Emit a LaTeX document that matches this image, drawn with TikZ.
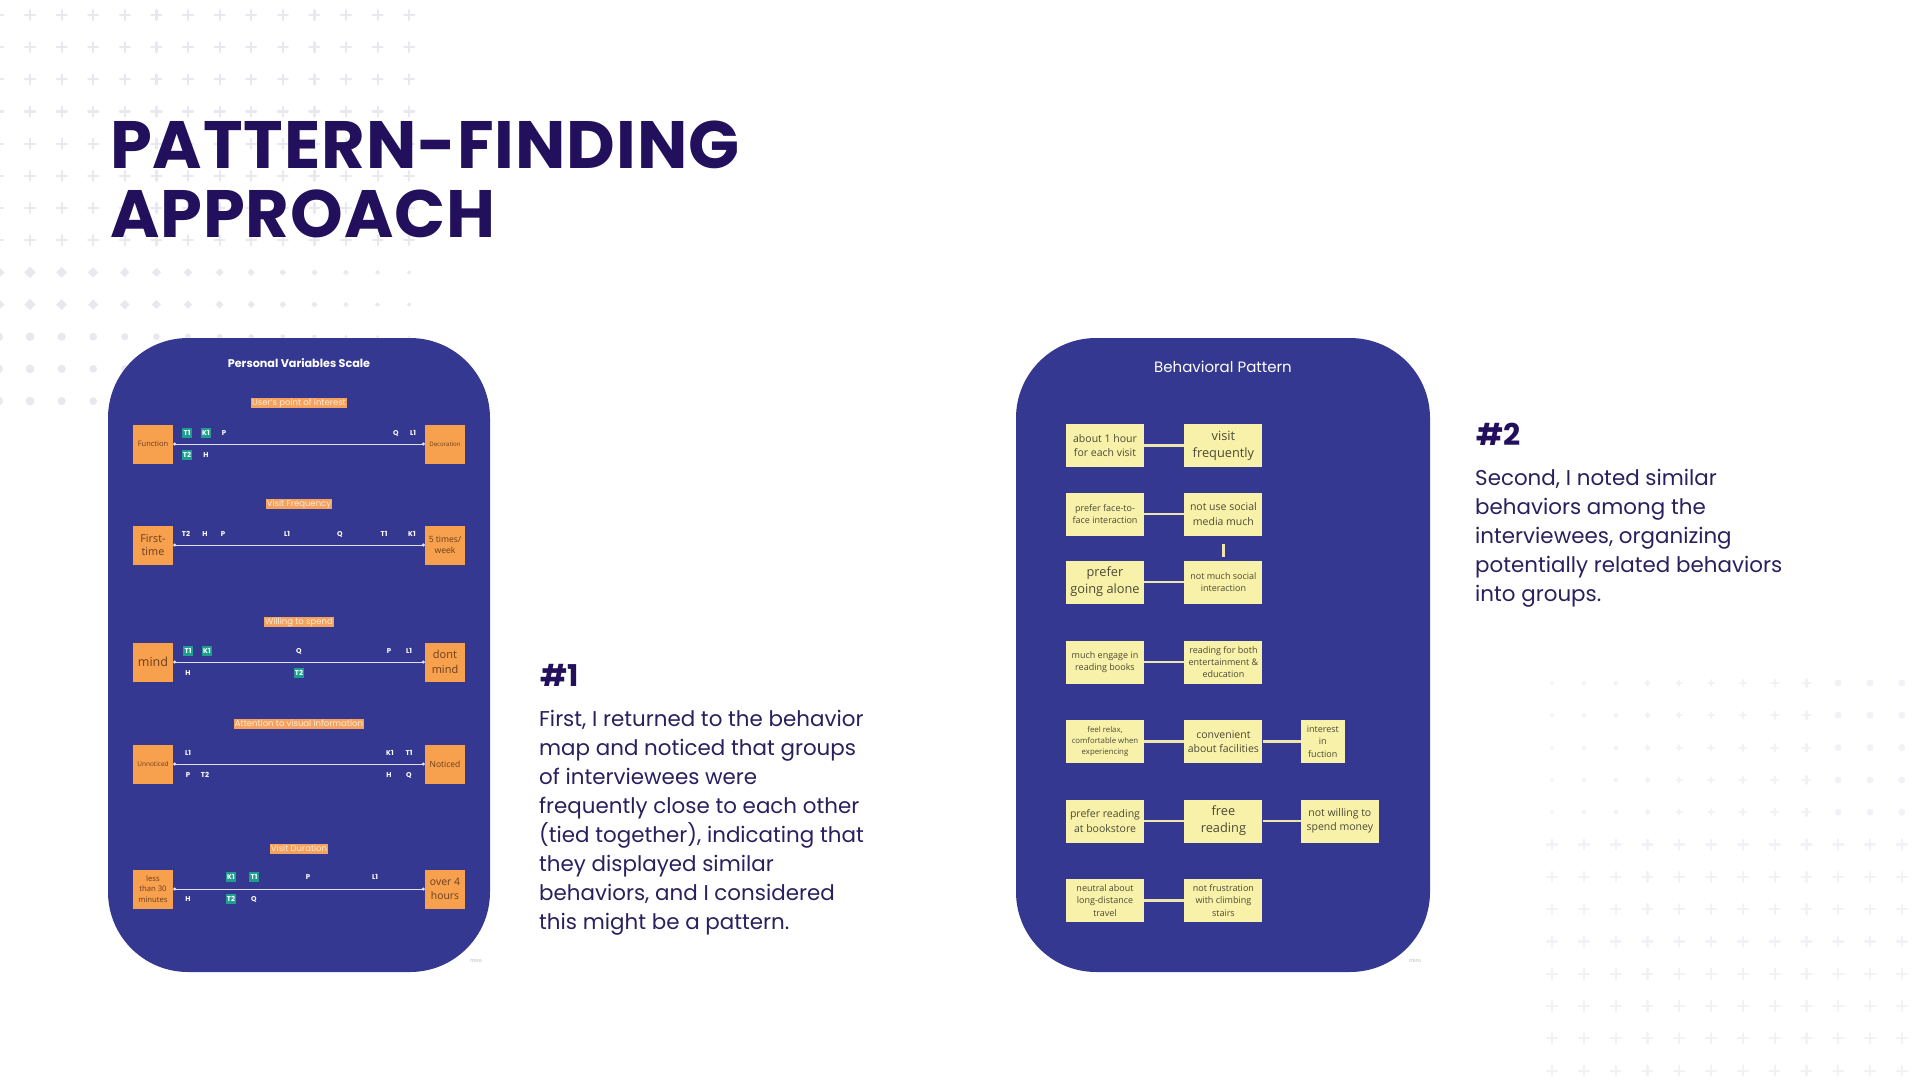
\documentclass[tikz,border=0pt]{standalone}
\usepackage{fontspec}
\setmainfont{Poppins}
\newfontfamily\notefont{Open Sans}
\usetikzlibrary{positioning,arrows.meta}
\definecolor{panelblue}{HTML}{343891}
\definecolor{titleindigo}{HTML}{22105C}
\definecolor{bodyindigo}{HTML}{2B1F5E}
\definecolor{dotgrey}{HTML}{E8E9EF}
\definecolor{dotfaint}{HTML}{F1F2F5}
\definecolor{boxorange}{HTML}{F7A04E}
\definecolor{boxtext}{HTML}{6B3E1B}
\definecolor{labelorange}{HTML}{F4A25E}
\definecolor{labeltext}{HTML}{FFEBD8}
\definecolor{markteal}{HTML}{1E9E8C}
\definecolor{linewhite}{HTML}{DDE0F6}
\definecolor{noteyellow}{HTML}{F8F1A9}
\definecolor{notetext}{HTML}{4C4A35}
\definecolor{notelinkc}{HTML}{EDE5AE}

\begin{document}
\begin{tikzpicture}[x=1pt, y=-1pt, line cap=round, line join=round,
  plusmark/.style={draw=dotgrey, line width=2.2pt},
  faintplus/.style={draw=dotfaint, line width=2.2pt},
  titletext/.style={text=titleindigo, font=\bfseries\fontsize{67}{69}\selectfont\addfontfeatures{LetterSpace=1.4}, inner sep=0pt},
  hashtext/.style={text=titleindigo, font=\bfseries\fontsize{30}{32}\selectfont, inner sep=0pt},
  bodytext/.style={text=bodyindigo, font=\fontsize{21.4}{29}\selectfont, align=left, inner sep=0pt},
  pvtitle/.style={text=white, font=\bfseries\fontsize{11.2}{13}\selectfont, inner sep=1pt},
  bptitle/.style={text=white, font=\fontsize{15}{18}\selectfont, inner sep=1pt},
  scalelabel/.style={fill=labelorange, text=labeltext, font=\fontsize{8.5}{10}\selectfont,
    inner xsep=1.2pt, inner ysep=1.4pt, text height=6.3pt, text depth=1.8pt},
  endbox/.style 2 args={fill=boxorange, text=boxtext, font=\notefont\fontsize{#1}{#2}\selectfont,
    align=center, minimum width=40pt, minimum height=39pt, inner sep=1pt},
  scaleline/.style={draw=linewhite, line width=1pt, arrows={Circle[length=3pt]-Circle[length=3pt]}},
  mk/.style={text=white, font=\bfseries\fontsize{7}{8}\selectfont, inner xsep=1.3pt, inner ysep=1.8pt,
    text height=5.2pt, text depth=0.3pt},
  mkt/.style={mk, fill=markteal},
  note/.style={fill=noteyellow, text=notetext, font=\notefont\fontsize{10.5}{14.5}\selectfont,
    align=center, minimum width=78pt, minimum height=43pt, inner sep=1pt},
  notebig/.style={note, font=\notefont\fontsize{12.8}{17}\selectfont},
  notesmall/.style={note, font=\notefont\fontsize{9}{12.3}\selectfont},
  notetiny/.style={note, font=\notefont\fontsize{7.8}{11}\selectfont},
  notelink/.style={draw=notelinkc, line width=2.6pt, line cap=butt},
  miro/.style={text=black!30, font=\fontsize{5}{6}\selectfont, inner sep=0pt}]
  \useasboundingbox (0,0) rectangle (1920,1080);
  \fill[white] (0,0) rectangle (1920,1080);

  % dotted backdrop, top left
  \foreach \j in {0,...,7}
    \foreach \i in {-1,...,12}
      \draw[plusmark] ({30+31.6*\i},{15+32.17*\j}) +(-5,0) -- +(5,0) +(0,-5) -- +(0,5);
  \foreach \j in {8,9}
    \foreach \i in {-1,...,12} {
      \pgfmathsetmacro\s{6-0.3*(\i+1)}
      \fill[dotgrey] ({30+31.6*\i},{15+32.17*\j}) +(-\s,0) -- +(0,-\s) -- +(\s,0) -- +(0,\s) -- cycle;
    }
  \foreach \j in {10,11,12}
    \foreach \i in {-1,...,12} {
      \pgfmathsetmacro\r{4.6-0.25*(\i+1)}
      \fill[dotgrey] ({30+31.6*\i},{15+32.17*\j}) circle[radius=\r];
    }

  % dotted backdrop, bottom right
  \foreach \j in {0,...,12}
    \foreach \i in {0,...,11} {
      \pgfmathsetmacro\px{1552+31.8*\i}
      \pgfmathsetmacro\py{683+32.3*\j}
      \pgfmathsetmacro\a{1+0.35*\i}
      \ifnum\j<5
        \ifnum\i>8
          \fill[dotfaint] (\px,\py) circle[radius=3.5];
        \else
          \draw[faintplus] (\px,\py) +(-\a,0) -- +(\a,0) +(0,-\a) -- +(0,\a);
        \fi
      \else
        \draw[faintplus] (\px,\py) +(-5,0) -- +(5,0) +(0,-5) -- +(0,5);
      \fi
    }

  % heading
  \node[titletext, anchor=base west] (head1) at (110,168) {PATTERN-FINDING};
  \node[titletext, anchor=base west] (head2) at (110,237) {APPROACH};

  % panels
  \fill[panelblue, rounded corners=80pt] (108,338) rectangle (490,972);
  \fill[panelblue, rounded corners=80pt] (1016,338) rectangle (1430,972);
  \node[miro] (miroL) at (476,961) {miro};
  \node[miro] (miroR) at (1415,961) {miro};

  % personal variables scale
  \node[pvtitle] (pvs) at (299,363) {Personal Variables Scale};

  \node[scalelabel] (lbint) at (299,403) {User's point of interest};
  \node[endbox={7.5}{9}] (func) at (153,444) {Function};
  \node[endbox={6.1}{8}] (deco) at (445,444) {Decoration};
  \draw[scaleline] (func) -- (deco);
  \node[mkt] (r1T1) at (187,433) {T1};
  \node[mkt] (r1K1) at (206,433) {K1};
  \node[mk] (r1P) at (224,433) {P};
  \node[mk] (r1Q) at (396,433) {Q};
  \node[mk] (r1L1) at (413,433) {L1};
  \node[mkt] (r1T2) at (187,455) {T2};
  \node[mk] (r1H) at (206,455) {H};

  \node[scalelabel] (lbfreq) at (299,504) {Visit Frequency};
  \node[endbox={10.8}{13}] (first) at (153,545) {First-\\time};
  \node[endbox={8.6}{11}] (fivex) at (445,545) {5 times/\\week};
  \draw[scaleline] (first) -- (fivex);
  \node[mk] (r2T2) at (186,534) {T2};
  \node[mk] (r2H) at (205,534) {H};
  \node[mk] (r2P) at (223,534) {P};
  \node[mk] (r2L1) at (287,534) {L1};
  \node[mk] (r2Q) at (340,534) {Q};
  \node[mk] (r2T1) at (384,534) {T1};
  \node[mk] (r2K1) at (412,534) {K1};

  \node[scalelabel] (lbspend) at (299,622) {Willing to spend};
  \node[endbox={12.5}{15}] (mind) at (153,662) {mind};
  \node[endbox={11}{14.5}] (dont) at (445,662) {dont\\mind};
  \draw[scaleline] (mind) -- (dont);
  \node[mkt] (r3T1) at (188,651) {T1};
  \node[mkt] (r3K1) at (207,651) {K1};
  \node[mk] (r3Q) at (299,651) {Q};
  \node[mk] (r3P) at (389,651) {P};
  \node[mk] (r3L1) at (409,651) {L1};
  \node[mk] (r3H) at (188,673) {H};
  \node[mkt] (r3T2) at (299,673) {T2};

  \node[scalelabel] (lbvis) at (299,724) {Attention to visual information};
  \node[endbox={6.5}{8}] (unnot) at (153,764) {Unnoticed};
  \node[endbox={8.5}{10}] (noted) at (445,764) {Noticed};
  \draw[scaleline] (unnot) -- (noted);
  \node[mk] (r4L1) at (188,753) {L1};
  \node[mk] (r4K1) at (390,753) {K1};
  \node[mk] (r4T1) at (409,753) {T1};
  \node[mk] (r4P) at (188,775) {P};
  \node[mk] (r4T2) at (205,775) {T2};
  \node[mk] (r4H) at (389,775) {H};
  \node[mk] (r4Q) at (409,775) {Q};

  \node[scalelabel] (lbdur) at (299,849) {Visit Duration};
  \node[endbox={7.7}{10.7}] (less) at (153,889) {less\\than 30\\minutes};
  \node[endbox={10.4}{14.3}] (over) at (445,889) {over 4\\hours};
  \draw[scaleline] (less) -- (over);
  \node[mkt] (r5K1) at (231,877) {K1};
  \node[mkt] (r5T1) at (254,877) {T1};
  \node[mk] (r5P) at (308,877) {P};
  \node[mk] (r5L1) at (375,877) {L1};
  \node[mk] (r5H) at (188,899) {H};
  \node[mkt] (r5T2) at (231,899) {T2};
  \node[mk] (r5Q) at (254,899) {Q};

  % behavioral pattern
  \node[bptitle] (bp) at (1223,367) {Behavioral Pattern};
  \node[note] (a1) at (1105,445.5) {about 1 hour\\for each visit};
  \node[notebig, right=40pt of a1] (a2) {visit\\frequently};
  \node[notesmall] (b1) at (1105,514) {prefer face-to-\\face interaction};
  \node[note, right=40pt of b1] (b2) {not use social\\media much};
  \node[notebig] (c1) at (1105,582) {prefer\\going alone};
  \node[notesmall, right=40pt of c1] (c2) {not much social\\interaction};
  \node[notesmall] (d1) at (1105,662) {much engage in\\reading books};
  \node[notesmall, right=40pt of d1] (d2) {reading for both\\entertainment \&\\education};
  \node[notetiny] (e1) at (1105,741.5) {feel relax,\\comfortable when\\experiencing};
  \node[note, right=40pt of e1] (e2) {convenient\\about facilities};
  \node[notesmall, minimum width=44pt, right=38pt of e2] (e3) {interest\\in\\fuction};
  \node[note] (f1) at (1105,821) {prefer reading\\at bookstore};
  \node[notebig, right=40pt of f1] (f2) {free\\reading};
  \node[note, right=38pt of f2] (f3) {not willing to\\spend money};
  \node[notesmall] (g1) at (1105,900.5) {neutral about\\long-distance\\travel};
  \node[notesmall, right=40pt of g1] (g2) {not frustration\\with climbing\\stairs};
  \draw[notelink] (a1) -- (a2);
  \draw[notelink] (b1) -- (b2);
  \draw[notelink, shorten <=8pt, shorten >=3pt] (b2) -- (c2);
  \draw[notelink] (c1) -- (c2);
  \draw[notelink] (d1) -- (d2);
  \draw[notelink] (e1) -- (e2);
  \draw[notelink] (e2) -- (e3);
  \draw[notelink] (f1) -- (f2);
  \draw[notelink] (f2) -- (f3);
  \draw[notelink] (g1) -- (g2);

  % step texts
  \node[hashtext, anchor=base west] (hash1) at (540,686) {\#1};
  \node[bodytext, anchor=north west] (text1) at (539,705.7) {\strut First, I returned to the behavior\\
    map and noticed that groups\\of interviewees were\\frequently close to each other\\
    (tied together), indicating that\\they displayed similar\\behaviors, and I considered\\
    this might be a pattern.};
  \node[hashtext, anchor=base west] (hash2) at (1476,445) {\#2};
  \node[bodytext, anchor=north west] (text2) at (1475,464.7) {\strut Second, I noted similar\\
    behaviors among the\\interviewees, organizing\\potentially related behaviors\\into groups.};
\end{tikzpicture}
\end{document}
